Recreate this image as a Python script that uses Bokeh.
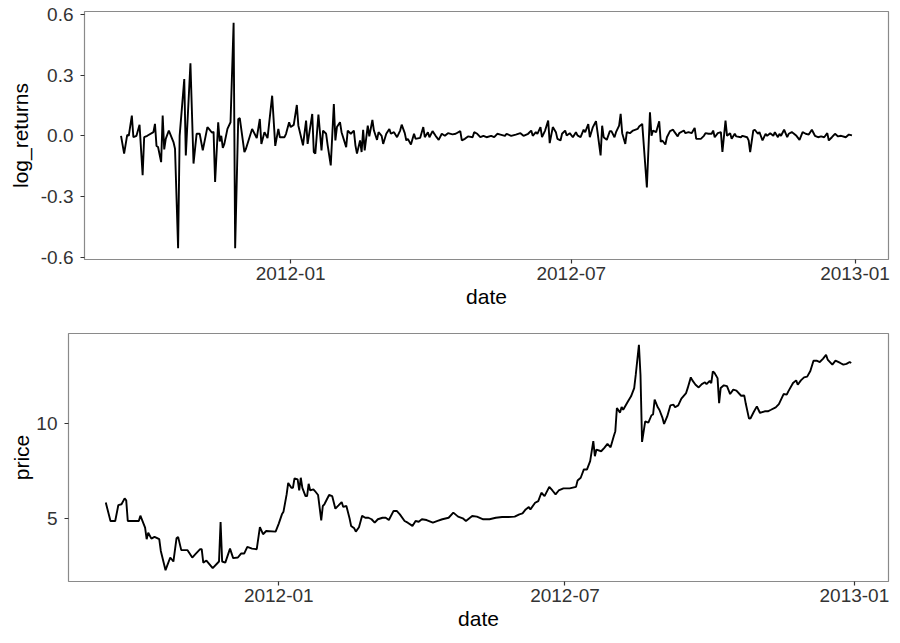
import pandas as pd
from bokeh.plotting import figure
from bokeh.models import Range1d, FixedTicker, DatetimeTickFormatter, NumeralTickFormatter, ColumnDataSource
from bokeh.embed import file_html
from bokeh.resources import INLINE

START = "2011-09-13"

# ---- log returns (day offset from START, value) ----
ret_day = [0, 2, 4, 5, 7, 8, 10, 12, 14, 15, 17, 21, 22, 23, 24, 26, 27, 28, 29, 31,
           34, 35, 37, 38, 41, 42, 45, 47, 49, 51, 53, 56, 57, 59, 60, 61, 63, 64, 65, 66,
           67, 69, 71, 73, 74, 76, 77, 80, 81, 85, 88, 90, 91, 93, 95, 98, 100, 102, 103, 106,
           107, 109, 110, 112, 114, 115, 118, 120, 121, 124, 125, 126, 128, 130, 131, 133, 134, 136, 138, 139,
           140, 142, 143, 146, 147, 149, 151, 152, 153, 155, 156, 157, 158, 160, 161, 163, 164, 166, 167, 169,
           170, 172, 174, 175, 177, 179, 181, 182, 184, 185, 186, 188, 190, 191, 194, 196, 197, 199, 200, 202,
           204, 206, 208, 210, 212, 215, 217, 220, 221, 223, 225, 228, 229, 231, 233, 235, 237, 240, 242, 244,
           246, 249, 250, 253, 256, 259, 261, 264, 266, 267, 269, 270, 272, 273, 275, 277, 278, 280, 282, 283,
           285, 286, 288, 289, 291, 293, 295, 296, 298, 300, 301, 303, 304, 306, 308, 309, 311, 312, 313, 315,
           317, 318, 320, 321, 323, 324, 325, 327, 328, 330, 332, 335, 336, 338, 341, 343, 344, 345, 347, 349,
           350, 351, 353, 354, 356, 358, 359, 361, 362, 365, 366, 368, 370, 372, 373, 376, 378, 379, 381, 383,
           384, 385, 387, 389, 390, 392, 393, 395, 396, 398, 399, 402, 403, 406, 407, 408, 410, 411, 413, 414,
           416, 418, 419, 421, 423, 424, 426, 427, 428, 430, 432, 433, 435, 436, 438, 440, 442, 444, 446, 448,
           450, 452, 454, 456, 458, 459, 461, 463, 465, 467, 470, 472, 474]
log_returns = [0.0, -0.088, 0.005, 0.0, 0.10, -0.007, 0.0, 0.054, -0.195, -0.007, 0.0, 0.018, 0.059, -0.05, -0.055, -0.13, 0.10, -0.067, -0.015, 0.026,
               -0.031, -0.064, -0.555, 0.0, 0.28, -0.097, 0.358, -0.137, 0.01, 0.01, -0.072, 0.043, 0.034, 0.015, 0.02, -0.228, 0.067, -0.028, 0.0, -0.06,
               -0.04, 0.034, 0.067, 0.558, -0.555, 0.083, 0.087, -0.08, -0.064, 0.034, -0.011, 0.083, -0.04, 0.018, -0.011, 0.198, -0.05, 0.034, -0.007, -0.007,
               0.01, 0.067, 0.043, 0.054, 0.152, 0.05, -0.047, 0.075, -0.04, 0.108, -0.08, -0.088, 0.105, -0.072, 0.026, 0.01, -0.047, -0.146, 0.157, -0.023,
               0.043, 0.067, 0.018, -0.056, 0.026, 0.01, 0.026, -0.047, -0.088, -0.023, -0.08, 0.03, -0.072, 0.05, -0.003, 0.078, 0.026, -0.02, 0.018, 0.0,
               -0.04, 0.01, 0.034, 0.01, 0.018, -0.007, 0.026, 0.055, 0.013, -0.023, -0.015, -0.043, 0.01, -0.015, -0.01, 0.043, -0.007, 0.018, -0.007, 0.023,
               0.0, -0.02, 0.01, 0.0, 0.013, 0.007, 0.01, 0.023, -0.023, -0.015, -0.003, -0.007, 0.018, 0.01, -0.007, 0.0, -0.007, 0.0, -0.007, 0.01,
               0.006, 0.0, 0.01, 0.0, 0.006, 0.013, 0.0, 0.01, 0.026, 0.0, 0.018, 0.01, 0.043, -0.007, 0.026, 0.075, -0.036, 0.043, 0.018, -0.015,
               -0.023, 0.01, 0.026, 0.002, 0.013, -0.007, 0.018, 0.002, -0.007, 0.03, 0.018, 0.058, -0.007, 0.043, 0.072, 0.018, -0.097, 0.05, -0.007, -0.02,
               0.023, 0.023, -0.007, 0.018, 0.05, 0.108, 0.013, -0.04, 0.018, 0.013, 0.026, 0.034, 0.046, 0.059, -0.255, 0.116, 0.0, 0.026, 0.018, 0.072,
               -0.03, -0.023, -0.043, -0.007, 0.023, 0.03, 0.018, -0.003, 0.013, 0.026, 0.013, 0.018, 0.013, 0.039, -0.015, -0.015, 0.0, 0.013, 0.01, 0.01,
               0.026, -0.007, 0.013, 0.018, -0.08, 0.075, 0.0, 0.013, -0.015, 0.01, -0.003, -0.007, 0.0, -0.007, -0.023, -0.08, 0.026, 0.03, 0.01, 0.018,
               -0.023, 0.01, 0.0, 0.013, 0.0, 0.018, -0.007, 0.01, 0.0, 0.03, -0.007, 0.01, 0.018, 0.013, 0.0, -0.02, 0.018, 0.01, 0.006, 0.03,
               0.0, -0.007, -0.003, -0.007, 0.013, -0.023, -0.007, 0.01, -0.003, 0.0, -0.007, 0.006, 0.002]

# ---- price (day offset from START, value) ----
price_day = [0, 3, 6, 8, 10, 12, 13, 14, 21, 22, 25, 26, 27, 29, 31, 34, 35, 38, 39, 41,
             43, 45, 46, 48, 52, 55, 57, 60, 61, 62, 64, 68, 72, 73, 74, 76, 79, 81, 84, 86,
             88, 90, 93, 96, 98, 100, 102, 108, 110, 112, 113, 115, 116, 118, 119, 120, 122, 123, 124, 125,
             127, 128, 129, 130, 132, 133, 135, 137, 138, 139, 142, 144, 146, 148, 150, 151, 153, 155, 156, 158,
             159, 161, 163, 165, 167, 169, 171, 173, 176, 178, 180, 183, 185, 187, 190, 192, 195, 197, 199, 201,
             204, 208, 211, 214, 218, 221, 224, 227, 229, 233, 236, 240, 244, 248, 252, 256, 260, 263, 265, 267,
             269, 270, 273, 275, 277, 279, 282, 284, 286, 288, 291, 295, 297, 299, 300, 302, 304, 306, 308, 310,
             311, 312, 315, 317, 319, 321, 323, 324, 325, 327, 328, 329, 332, 334, 336, 337, 339, 340, 341, 343,
             345, 347, 348, 349, 351, 352, 354, 355, 357, 359, 361, 362, 364, 366, 369, 370, 372, 373, 375, 377,
             379, 381, 382, 384, 385, 386, 387, 389, 390, 391, 393, 395, 397, 399, 401, 404, 406, 407, 409, 410,
             412, 414, 416, 419, 421, 423, 426, 428, 431, 433, 434, 437, 439, 440, 442, 444, 446, 448, 450, 452,
             454, 456, 458, 459, 462, 464, 467, 469, 471, 473, 474]
price = [5.85, 4.88, 4.88, 5.72, 5.76, 6.07, 5.97, 4.88, 4.88, 5.16, 4.53, 3.92, 4.26, 3.95, 4.04, 3.92, 3.30, 2.28, 2.51, 2.95,
         2.74, 3.97, 4.04, 3.34, 3.34, 2.95, 3.13, 3.39, 3.39, 2.68, 2.79, 2.39, 2.74, 4.83, 2.74, 2.68, 3.42, 2.92, 2.95, 3.16,
         3.16, 3.51, 3.42, 3.39, 4.56, 4.18, 4.35, 4.32, 4.74, 5.23, 5.37, 6.28, 6.89, 6.63, 6.63, 7.13, 7.07, 6.49, 7.16, 6.63,
         6.19, 6.19, 6.84, 6.49, 6.55, 6.46, 6.25, 4.91, 5.67, 5.76, 6.25, 6.19, 5.53, 5.70, 5.88, 5.62, 5.67, 5.02, 4.62, 4.49,
         4.32, 4.55, 5.15, 5.05, 5.05, 4.97, 4.79, 4.97, 5.05, 5.05, 4.93, 5.41, 5.41, 5.23, 4.88, 4.79, 4.62, 4.88, 4.84, 4.97,
         4.93, 4.79, 4.88, 4.97, 5.05, 5.32, 5.11, 5.02, 4.88, 5.14, 5.11, 4.97, 4.97, 5.05, 5.09, 5.09, 5.11, 5.23, 5.28, 5.49,
         5.62, 5.49, 5.84, 5.93, 6.37, 6.19, 6.68, 6.49, 6.28, 6.49, 6.60, 6.60, 6.64, 6.68, 7.02, 7.16, 7.60, 7.60, 8.04, 9.09,
         8.30, 8.65, 8.56, 8.74, 8.95, 8.77, 9.35, 9.62, 10.84, 10.60, 10.90, 10.75, 11.19, 11.46, 11.89, 12.60, 14.18, 12.60, 9.05, 10.14,
         10.07, 10.46, 10.50, 11.28, 10.88, 10.75, 10.32, 10.00, 10.40, 10.98, 11.02, 10.88, 10.98, 11.34, 11.63, 11.89, 12.46, 12.30, 12.07, 11.93,
         12.10, 12.20, 12.10, 12.28, 12.15, 12.77, 12.70, 12.42, 11.10, 11.90, 12.04, 12.00, 11.58, 11.81, 11.76, 11.49, 11.50, 11.05, 10.28, 10.30,
         10.63, 10.93, 10.58, 10.67, 10.67, 10.75, 10.88, 11.05, 11.58, 11.55, 11.72, 12.16, 12.30, 12.07, 12.30, 12.46, 12.50, 12.80, 13.34, 13.34,
         13.27, 13.44, 13.65, 13.40, 13.13, 13.34, 13.22, 13.13, 13.17, 13.27, 13.22]

x_ticks = ["2012-01-01", "2012-07-01", "2013-01-01"]
ret_ticks = [-0.6, -0.3, 0.0, 0.3, 0.6]
price_ticks = [5, 10]

FONT = "Liberation Sans"


def to_dates(days):
    return pd.Timestamp(START) + pd.to_timedelta(days, unit="D")


def expanded(lo, hi, frac=0.05):
    span = hi - lo
    return lo - span * frac, hi + span * frac


def make_panel(days, values, ylabel, yticks, yfmt, height, border_left, border_top, border_bottom,
               ylab_standoff):
    dates = to_dates(days)
    x0, x1 = expanded(dates.min(), dates.max())
    y0, y1 = expanded(min(values), max(values))
    p = figure(width=892, height=height, x_axis_type="datetime",
               x_range=Range1d(x0, x1), y_range=Range1d(y0, y1),
               output_backend="svg", toolbar_location=None,
               min_border_left=border_left, min_border_right=4,
               min_border_top=border_top, min_border_bottom=border_bottom)
    src = ColumnDataSource(dict(x=dates, y=values))
    p.line("x", "y", source=src, line_color="black", line_width=1.9)

    p.xgrid.visible = False
    p.ygrid.visible = False
    p.outline_line_color = "#8a8a8a"
    p.outline_line_width = 1.2
    p.background_fill_color = "white"
    p.border_fill_color = "white"

    tick_ms = [pd.Timestamp(t).value / 1e6 for t in x_ticks]
    p.xaxis.ticker = FixedTicker(ticks=tick_ms)
    p.xaxis.formatter = DatetimeTickFormatter(days="%Y-%m", months="%Y-%m", years="%Y-%m")
    p.yaxis.ticker = FixedTicker(ticks=yticks)
    if yfmt is not None:
        p.yaxis.formatter = NumeralTickFormatter(format=yfmt)

    for ax in (p.xaxis[0], p.yaxis[0]):
        ax.axis_line_color = None
        ax.major_tick_line_color = "#333333"
        ax.major_tick_line_width = 1.2
        ax.major_tick_out = 4
        ax.major_tick_in = 0
        ax.minor_tick_line_color = None
        ax.major_label_text_font = FONT
        ax.major_label_text_font_size = "19px"
        ax.major_label_text_color = "#333333"
        ax.axis_label_text_font = FONT
        ax.axis_label_text_font_size = "21px"
        ax.axis_label_text_font_style = "normal"
        ax.axis_label_text_color = "black"

    p.xaxis.axis_label = "date"
    p.xaxis.major_label_standoff = 3
    p.xaxis.axis_label_standoff = 2
    p.yaxis.axis_label = ylabel
    p.yaxis.major_label_standoff = 7
    p.yaxis.axis_label_standoff = ylab_standoff
    return p


top = make_panel(ret_day, log_returns, "log_returns", ret_ticks, "0.0",
                 height=322, border_left=84, border_top=11, border_bottom=63, ylab_standoff=6)
bottom = make_panel(price_day, price, "price", price_ticks, None,
                    height=318, border_left=68, border_top=11, border_bottom=59, ylab_standoff=0)

open("out.html", "w").write(file_html([top, bottom], INLINE))
